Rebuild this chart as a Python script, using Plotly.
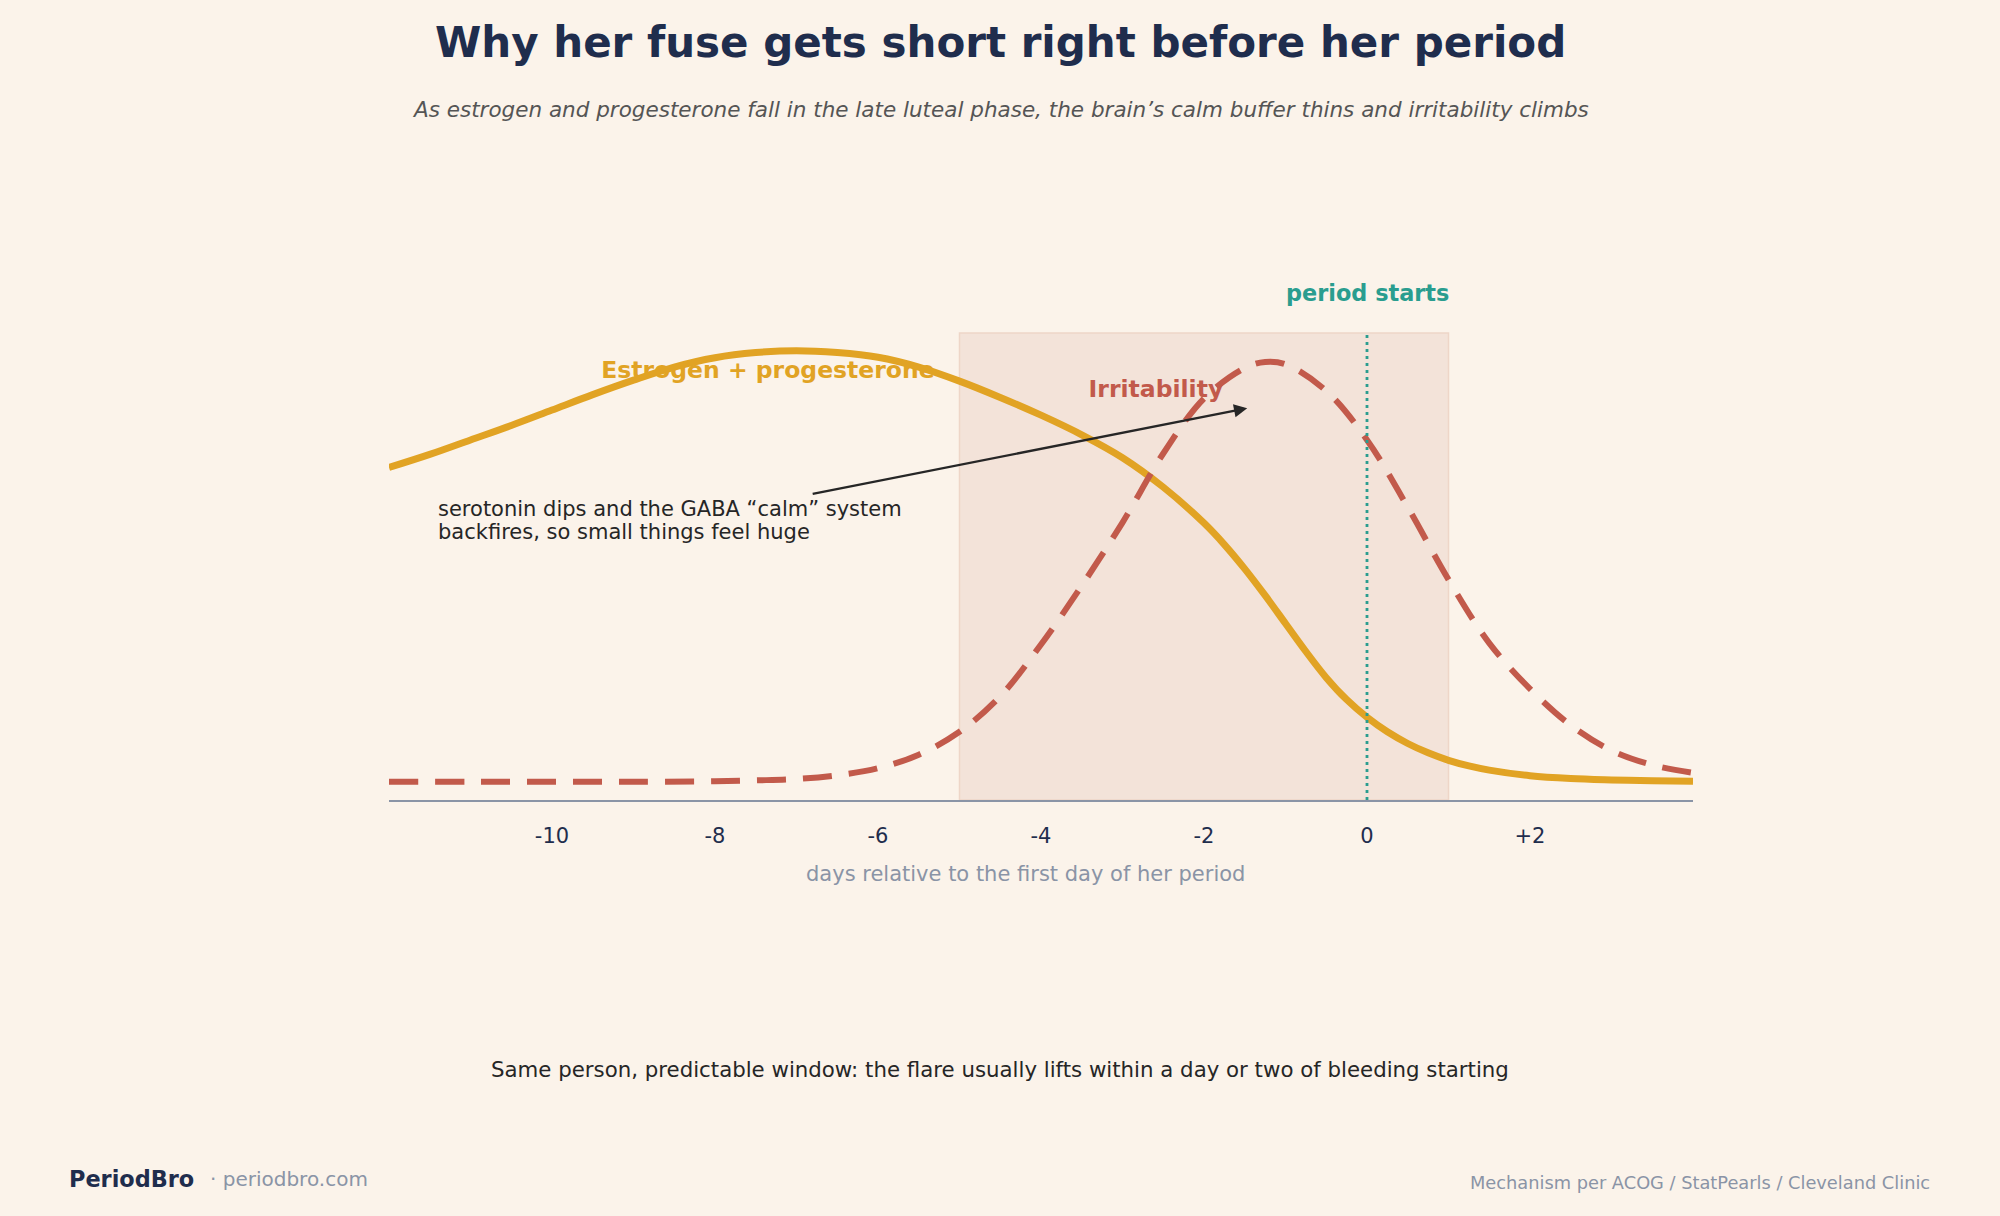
import plotly.graph_objects as go

# ---------------- data ----------------
est_days = [-12, -11.5, -11, -10.5, -10, -9.5, -9, -8.5, -8, -7.5, -7, -6.5, -6, -5.5, -5,
            -4.5, -4, -3.5, -3, -2.5, -2, -1.75, -1.5, -1.25, -1, -0.75, -0.5, -0.25, 0,
            0.25, 0.5, 0.75, 1, 1.25, 1.5, 2, 2.5, 3, 3.5, 4]
estrogen = [0.712, 0.740, 0.771, 0.802, 0.835, 0.868, 0.899, 0.927, 0.947, 0.958, 0.962,
            0.958, 0.948, 0.927, 0.897, 0.862, 0.824, 0.782, 0.733, 0.670, 0.593, 0.547,
            0.495, 0.438, 0.378, 0.318, 0.262, 0.215, 0.177, 0.146, 0.121, 0.101, 0.085,
            0.073, 0.064, 0.052, 0.046, 0.043, 0.041, 0.040]

irr_days = [-12, -11, -10, -9, -8, -7.5, -7, -6.5, -6, -5.5, -5, -4.5, -4, -3.5, -3, -2.5,
            -2, -1.5, -1.25, -1, -0.5, 0, 0.5, 1, 1.5, 2, 2.5, 3, 3.5, 4]
irritability = [0.039, 0.039, 0.039, 0.039, 0.040, 0.042, 0.045, 0.053, 0.068, 0.097, 0.146,
                0.222, 0.333, 0.459, 0.594, 0.742, 0.860, 0.925, 0.938, 0.933, 0.876, 0.771,
                0.627, 0.472, 0.336, 0.238, 0.160, 0.106, 0.075, 0.058]

tick_vals = [-10, -8, -6, -4, -2, 0, 2]
tick_text = ["-10", "-8", "-6", "-4", "-2", "0", "+2"]

window_start, window_end = -5, 1
period_day = 0

title = "Why her fuse gets short right before her period"
subtitle = "As estrogen and progesterone fall in the late luteal phase, the brain\u2019s calm buffer thins and irritability climbs"
note_lines = ["serotonin dips and the GABA \u201ccalm\u201d system",
              "backfires, so small things feel huge"]
caption = "Same person, predictable window: the flare usually lifts within a day or two of bleeding starting"
x_title = "days relative to the first day of her period"
sources = "Mechanism per ACOG / StatPearls / Cleveland Clinic"

# ---------------- style ----------------
FONT = "DejaVu Sans"
BG = "#fbf3ea"
NAVY = "#1f2d4d"
GOLD = "#e1a324"
RED = "#c25a4b"
TEAL = "#2a9d8f"
GRAY = "#8a94a6"
DARK = "#262626"

W, H = 2000, 1216
L, R, T, B = 389, 307, 333, 416
PW, PH = W - L - R, H - T - B


def px(x):
    return (x - L) / PW


def py(y):
    return (H - B - y) / PH


fig = go.Figure()

# label text traces (drawn under the curves)
fig.add_trace(go.Scatter(x=[-7.35], y=[0.916], mode="text", text=["Estrogen + progesterone"],
                         textfont=dict(family=FONT, size=23.5, color=GOLD, weight="bold"),
                         hoverinfo="skip"))
fig.add_trace(go.Scatter(x=[-2.59], y=[0.875], mode="text", text=["Irritability"],
                         textfont=dict(family=FONT, size=23.5, color=RED, weight="bold"),
                         hoverinfo="skip"))

fig.add_trace(go.Scatter(x=est_days, y=estrogen, mode="lines",
                         line=dict(color=GOLD, width=7, shape="spline", smoothing=1.0),
                         hoverinfo="skip"))
fig.add_trace(go.Scatter(x=irr_days, y=irritability, mode="lines",
                         line=dict(color=RED, width=6, shape="spline", smoothing=1.0,
                                   dash="29px,17px"),
                         hoverinfo="skip"))

# shaded window
fig.add_shape(type="rect", xref="x", yref="paper", x0=window_start, x1=window_end, y0=0, y1=1,
              fillcolor="#f3e3d9", line=dict(color="#eed6c8", width=1.5), layer="below")
# period start marker
fig.add_shape(type="line", xref="x", yref="paper", x0=period_day, x1=period_day, y0=0, y1=1,
              line=dict(color=TEAL, width=2.8, dash="3px,4px"), layer="above")

ann = []
ann.append(dict(xref="paper", yref="paper", x=px(1000), y=py(42), text="<b>" + title + "</b>",
                font=dict(family=FONT, size=42, color=NAVY), showarrow=False,
                xanchor="center", yanchor="middle"))
ann.append(dict(xref="paper", yref="paper", x=px(1000), y=py(110), text="<i>" + subtitle + "</i>",
                font=dict(family=FONT, size=21.5, color="#555555"), showarrow=False,
                xanchor="center", yanchor="middle"))
ann.append(dict(xref="x", yref="paper", x=period_day, y=py(293), text="<b>period starts</b>",
                font=dict(family=FONT, size=22.4, color=TEAL), showarrow=False,
                xanchor="center", yanchor="middle"))
ann.append(dict(xref="x", yref="y", x=-1.47, y=0.839, ax=-6.82, ay=0.655, axref="x", ayref="y",
                text="", showarrow=True, arrowhead=2, arrowsize=1.1, arrowwidth=2.4,
                arrowcolor=DARK, standoff=0, startstandoff=0))
for i, line in enumerate(note_lines):
    ann.append(dict(xref="paper", yref="paper", x=px(436), y=py(509 + 23 * i), text=line,
                    font=dict(family=FONT, size=21, color=DARK), showarrow=False,
                    xanchor="left", yanchor="middle"))
ann.append(dict(xref="paper", yref="paper", x=px(1025), y=py(874), text=x_title,
                font=dict(family=FONT, size=21, color=GRAY), showarrow=False,
                xanchor="center", yanchor="middle"))
ann.append(dict(xref="paper", yref="paper", x=px(1000), y=py(1069), text=caption,
                font=dict(family=FONT, size=21.3, color=DARK), showarrow=False,
                xanchor="center", yanchor="middle"))
ann.append(dict(xref="paper", yref="paper", x=px(67), y=py(1179), text="<b>PeriodBro</b>",
                font=dict(family=FONT, size=22.4, color=NAVY), showarrow=False,
                xanchor="left", yanchor="middle"))
ann.append(dict(xref="paper", yref="paper", x=px(208), y=py(1179), text="\u00b7 periodbro.com",
                font=dict(family=FONT, size=20, color=GRAY), showarrow=False,
                xanchor="left", yanchor="middle"))
ann.append(dict(xref="paper", yref="paper", x=px(1932), y=py(1182), text=sources,
                font=dict(family=FONT, size=17.8, color=GRAY), showarrow=False,
                xanchor="right", yanchor="middle"))

fig.update_layout(
    width=W, height=H,
    margin=dict(l=L, r=R, t=T, b=B, pad=0),
    paper_bgcolor=BG, plot_bgcolor=BG,
    showlegend=False, hovermode=False,
    font=dict(family=FONT, color=NAVY),
    annotations=ann,
    xaxis=dict(range=[-12, 4], showgrid=False, zeroline=False, showline=True,
               linecolor=GRAY, linewidth=2, ticks="", tickvals=tick_vals, ticktext=tick_text,
               tickfont=dict(family=FONT, size=21, color=NAVY), ticklabelstandoff=16,
               fixedrange=True),
    yaxis=dict(range=[0, 1], visible=False, fixedrange=True),
)

fig.write_html("out.html", config={"displayModeBar": False})
